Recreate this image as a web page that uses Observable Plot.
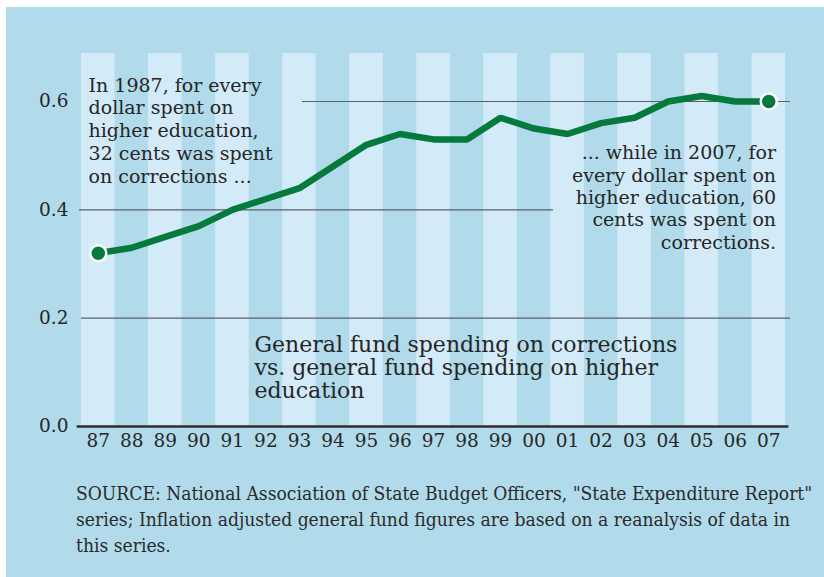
<!DOCTYPE html>
<html><head><meta charset="utf-8">
<script src="https://cdn.jsdelivr.net/npm/d3@7"></script>
<script src="https://cdn.jsdelivr.net/npm/@observablehq/plot@0.6"></script>
<style>
body{margin:0;background:#fff;}
#wrap{position:absolute;left:6px;top:7px;width:818px;height:570px;background:#b1dbea;font-family:"DejaVu Serif",serif;color:#262626;overflow:hidden;}
#cap{margin:19px 0 0 70px;font-family:"DejaVu Serif Condensed","DejaVu Serif",serif;font-stretch:condensed;font-size:19.1px;line-height:26px;white-space:nowrap;color:#2a2a2a;}
svg{display:block;}
</style></head>
<body>
<div id="wrap"><div id="chart"></div>
<div id="cap">SOURCE: National Association of State Budget Officers, "State Expenditure Report"<br>series; Inflation adjusted general fund figures are based on a reanalysis of data in<br>this series.</div></div>
<script>
const years = ["87","88","89","90","91","92","93","94","95","96","97","98","99","00","01","02","03","04","05","06","07"];
const ratio = [0.32,0.33,0.35,0.37,0.40,0.42,0.44,0.48,0.52,0.54,0.53,0.53,0.57,0.55,0.54,0.56,0.57,0.60,0.61,0.60,0.60];
const yTicks = [0, 0.2, 0.4, 0.6];
const yMax = 0.6886;
// gridline extents in category-index units
const gridY = [0.2, 0.4, 0.6];
const gridX1 = [-0.5, -0.56, 6.09];
const gridX2 = [20.65, 13.58, 20.65];
const annText = [
  "In 1987, for every\ndollar spent on\nhigher education,\n32 cents was spent\non corrections ...",
  "... while in 2007, for\nevery dollar spent on\nhigher education, 60\ncents was spent on\ncorrections.",
  "General fund spending on corrections\nvs. general fund spending on higher\neducation"
];
const annX = [-0.29, 20.22, 4.66];
const annY = [0.648, 0.523, 0.168];
const annAnchor = ["start", "end", "start"];
const annSize = [19, 19, 22];
const annLead = [1.2, 1.18, 1.05];

const data = years.map((y, i) => ({i, y, v: ratio[i]}));
const stripes = data.filter(d => d.i % 2 === 0);
const ends = [data[0], data[data.length - 1]];
const grids = gridY.map((g, k) => ({y: g, x1: gridX1[k], x2: gridX2[k]}));
const anns = annText.map((t, k) => ({t, x: annX[k], y: annY[k], a: annAnchor[k], s: annSize[k], l: annLead[k]}));

const green = "#067a3c";
const chart = Plot.plot({
  width: 818, height: 455,
  marginLeft: 75, marginRight: 39, marginTop: 46, marginBottom: 36,
  style: {background: "transparent", fontFamily: "'DejaVu Serif', serif", color: "#262626"},
  x: {type: "linear", domain: [-0.5, 20.5], axis: null},
  y: {domain: [0, yMax], axis: null},
  marks: [
    Plot.rect(stripes, {x1: d => d.i - 0.5, x2: d => d.i + 0.5, y1: 0, y2: yMax, fill: "#d3ebf8"}),
    Plot.ruleY(grids, {y: "y", x1: "x1", x2: "x2", stroke: "#5b6066", strokeWidth: 1.2}),
    Plot.ruleY([0], {x1: -0.63, x2: 20.6, stroke: "#2e2e2e", strokeWidth: 2.6}),
    Plot.text(data, {x: "i", y: 0, text: "y", dy: 15, fontSize: 18.5, fill: "#262626"}),
    Plot.text(yTicks, {x: -0.5, y: d => d, text: d => d.toFixed(1), dx: -13, textAnchor: "end", fontSize: 18.5, fill: "#262626"}),
    ...anns.map(a => Plot.text([a], {x: "x", y: "y", text: "t", textAnchor: a.a, lineAnchor: "top", lineHeight: a.l, fontSize: a.s, fill: "#262626"})),
    Plot.line(data, {x: "i", y: "v", stroke: green, strokeWidth: 6.5, strokeLinejoin: "miter"}),
    Plot.dot(ends, {x: "i", y: "v", r: 8, fill: green, stroke: "#fff", strokeWidth: 2.5})
  ]
});
document.getElementById("chart").appendChild(chart);
</script>
</body></html>
